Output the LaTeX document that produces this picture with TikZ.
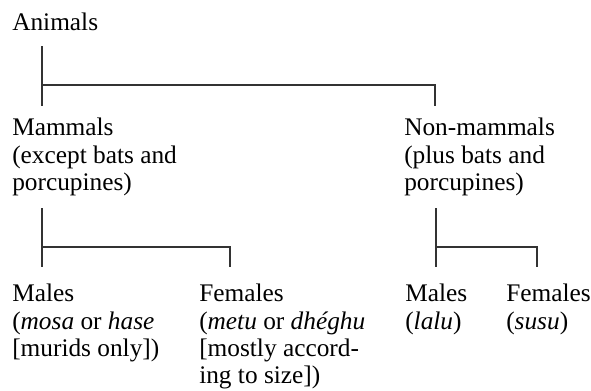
\documentclass[tikz,border=0pt]{standalone}
\usepackage{fontspec}
\setmainfont{Liberation Serif}
\usetikzlibrary{positioning}

\begin{document}
\begin{tikzpicture}[x=0.75pt, y=-0.75pt]

        % Setup the styles for the labels and the branches
        \tikzset{label style/.style={anchor=north west,
                                     inner sep=0pt,
                                     align=left,
                                     font=\fontsize{19}{20.6}\selectfont},
                 branch/.style={line width=0.9pt, draw=black!80}}

        \useasboundingbox (0,0) rectangle (591,390);

        % Draw the labels
        \node[label style] at (12, 12.7)  (animals)  {Animals};
        \node[label style] at (12, 117.7) (mammals)  {Mammals\\(except bats and\\porcupines)};
        \node[label style] at (404, 117.7) (nonmammals) {Non-mammals\\(plus bats and\\porcupines)};
        \node[label style] at (12, 283.7)  (males)    {Males\\(\textit{mosa} or \textit{hase}\\{[murids only])}};
        \node[label style] at (199, 283.7) (females)  {Females\\(\textit{metu} or \textit{dhéghu}\\{[mostly accord-}\\ing to size])};
        \node[label style] at (405, 283.7) (nmmales)  {Males\\(\textit{lalu})};
        \node[label style] at (506, 283.7) (nmfemales) {Females\\(\textit{susu})};

        % Branch points
        \coordinate (top1) at (42, 46);
        \coordinate (fork1) at (42, 85);
        \coordinate (end1) at (42, 106);
        \coordinate (end2) at (435, 106);
        \coordinate (top2) at (42, 208);
        \coordinate (fork2) at (42, 247);
        \coordinate (end3) at (42, 267);
        \coordinate (end4) at (230, 267);
        \coordinate (top3) at (436, 208);
        \coordinate (fork3) at (436, 247);
        \coordinate (end5) at (436, 267);
        \coordinate (end6) at (537, 267);

        % Connect the labels
        \draw[branch] (top1) -- (end1) (fork1) -| (end2);
        \draw[branch] (top2) -- (end3) (fork2) -| (end4);
        \draw[branch] (top3) -- (end5) (fork3) -| (end6);
\end{tikzpicture}
\end{document}
